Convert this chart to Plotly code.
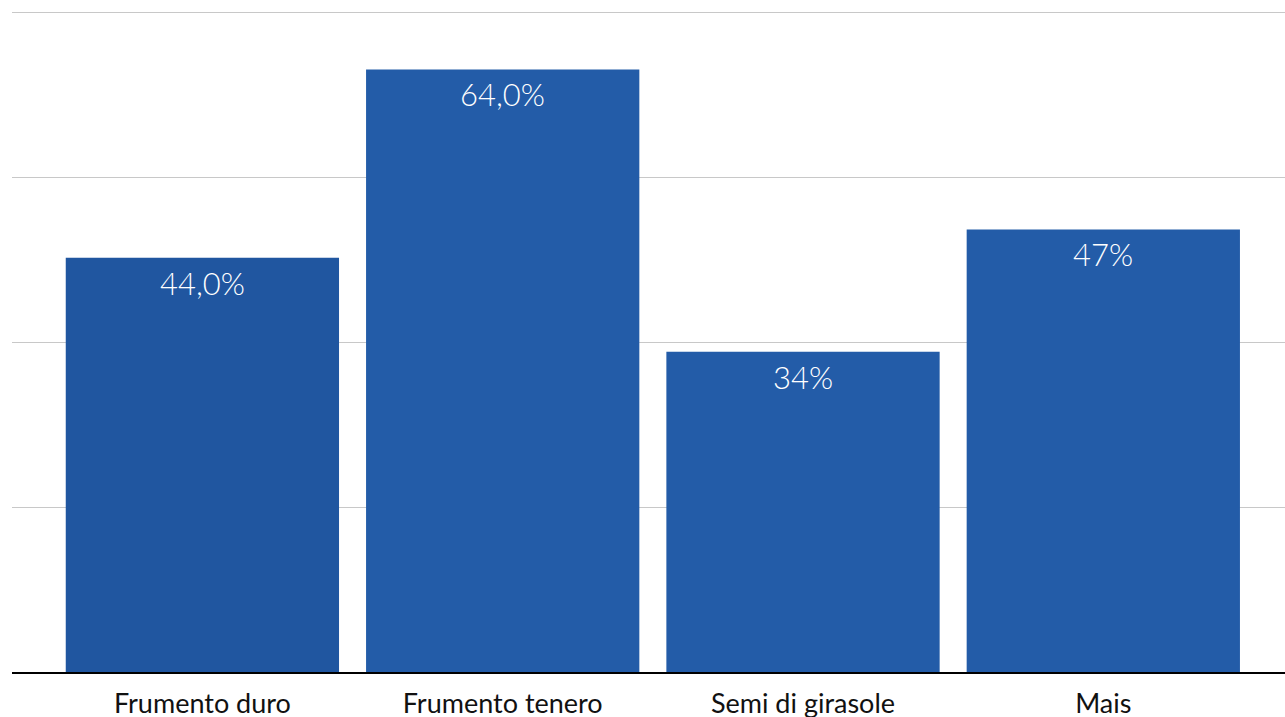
import plotly.graph_objects as go

categories = ["Frumento duro", "Frumento tenero", "Semi di girasole", "Mais"]
values = [44.0, 64.0, 34.0, 47.0]
labels = ["44,0%", "64,0%", "34%", "47%"]
colors = ["#2056a0", "#235ca8", "#235ca8", "#235ca8"]

fig = go.Figure()
fig.add_trace(go.Bar(
    x=categories, y=values, marker_color=colors, marker_line_width=0,
    hoverinfo="skip",
))

for c, v, t in zip(categories, values, labels):
    fig.add_annotation(x=c, y=v, text=t, showarrow=False, yanchor="top",
                       yshift=-4, font=dict(family="Lato", size=31, color="white", weight=300))

fig.update_layout(
    width=1285, height=717,
    margin=dict(l=12, r=0, t=11, b=45),
    paper_bgcolor="white", plot_bgcolor="white",
    bargap=0.09,
    showlegend=False,
    font=dict(family="Lato", size=27, color="#111111"),
)
fig.update_xaxes(
    range=[-0.634, 3.605], automargin=False,
    showline=True, linecolor="black", linewidth=2,
    ticks="outside", ticklen=7, tickcolor="rgba(0,0,0,0)",
    showgrid=False,
    tickfont=dict(family="Lato", size=27, color="#111111"),
)
fig.update_yaxes(
    range=[0, 70.2], tickvals=[17.5, 35, 52.5, 70], showticklabels=False,
    automargin=False,
    showgrid=True, gridcolor="#c8c8c8", gridwidth=1, zeroline=False,
)

fig.write_html("out.html")
